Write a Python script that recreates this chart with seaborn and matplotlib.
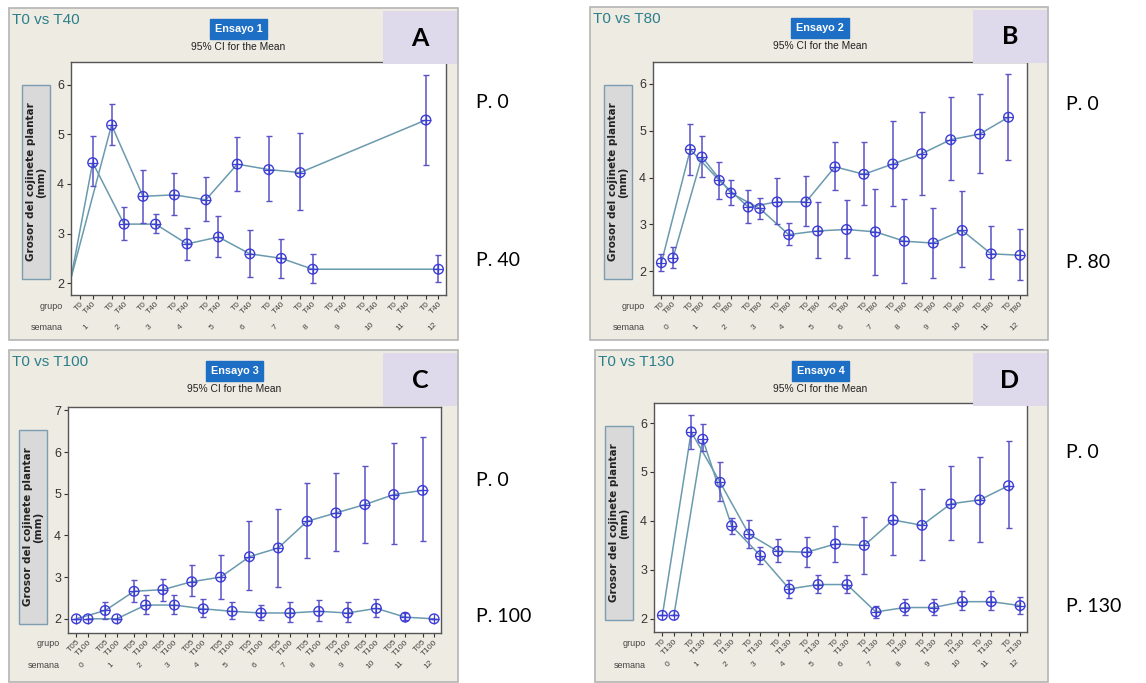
import matplotlib
matplotlib.use('Agg')
import matplotlib.pyplot as plt
import matplotlib.transforms as mtransforms
from matplotlib.patches import Rectangle
import numpy as np
import pandas as pd
import seaborn as sns

sns.set_style('white')
plt.rcParams['font.family'] = ['Liberation Sans', 'DejaVu Sans']

# ---------------- datos ----------------
semanas_A = [1, 2, 3, 4, 5, 6, 7, 8, 9, 10, 11, 12]
grupos_A = ['T0', 'T40']
A_T0_media = [None, 5.19, 3.75, 3.78, 3.68, 4.40, 4.29, 4.23, None, None, None, 5.29]
A_T0_inf = [None, 4.78, 3.22, 3.38, 3.26, 3.86, 3.65, 3.48, None, None, None, 4.39]
A_T0_sup = [None, 5.61, 4.29, 4.23, 4.14, 4.94, 4.96, 5.03, None, None, None, 6.20]
A_T40_media = [4.43, 3.19, 3.19, 2.79, 2.93, 2.59, 2.50, 2.28, None, None, None, 2.28]
A_T40_inf = [3.95, 2.87, 3.02, 2.47, 2.52, 2.13, 2.11, 2.00, None, None, None, 2.03]
A_T40_sup = [4.96, 3.53, 3.40, 3.12, 3.36, 3.08, 2.89, 2.59, None, None, None, 2.57]
A_inicio = 2.1  # semana 0, fuera del eje

semanas_B = [0, 1, 2, 3, 4, 5, 6, 7, 8, 9, 10, 11, 12]
grupos_B = ['T0', 'T80']
B_T0_media = [2.18, 4.60, 3.94, 3.37, 3.48, 3.48, 4.23, 4.07, 4.29, 4.51, 4.81, 4.93, 5.29]
B_T0_inf = [2.00, 4.06, 3.54, 3.03, 3.00, 2.96, 3.73, 3.42, 3.39, 3.62, 3.94, 4.10, 4.37]
B_T0_sup = [2.37, 5.14, 4.34, 3.74, 4.00, 4.04, 4.76, 4.76, 5.20, 5.41, 5.73, 5.79, 6.21]
B_T80_media = [2.28, 4.44, 3.67, 3.34, 2.78, 2.86, 2.89, 2.84, 2.64, 2.60, 2.87, 2.37, 2.34]
B_T80_inf = [2.07, 4.01, 3.42, 3.11, 2.55, 2.28, 2.28, 1.92, 1.75, 1.86, 2.09, 1.84, 1.81]
B_T80_sup = [2.51, 4.89, 3.94, 3.57, 3.03, 3.48, 3.51, 3.76, 3.54, 3.36, 3.71, 2.96, 2.89]

semanas_C = [0, 1, 2, 3, 4, 5, 6, 7, 8, 9, 10, 11, 12]
grupos_C = ['T05', 'T100']
C_T05_media = [2.00, 2.20, 2.66, 2.70, 2.89, 3.00, 3.49, 3.70, 4.34, 4.54, 4.74, 4.98, 5.08]
C_T05_inf = [2.00, 2.00, 2.40, 2.42, 2.54, 2.48, 2.69, 2.77, 3.46, 3.62, 3.83, 3.80, 3.86]
C_T05_sup = [2.00, 2.40, 2.93, 2.96, 3.28, 3.53, 4.34, 4.64, 5.26, 5.50, 5.66, 6.22, 6.36]
C_T100_media = [2.00, 2.00, 2.33, 2.33, 2.24, 2.18, 2.14, 2.14, 2.18, 2.14, 2.25, 2.04, 2.00]
C_T100_inf = [2.00, 2.00, 2.12, 2.12, 2.04, 2.00, 1.97, 1.92, 1.94, 1.92, 2.04, 1.96, 2.00]
C_T100_sup = [2.00, 2.00, 2.58, 2.58, 2.48, 2.40, 2.32, 2.40, 2.46, 2.40, 2.48, 2.14, 2.00]

semanas_D = [0, 1, 2, 3, 4, 5, 6, 7, 8, 9, 10, 11, 12]
grupos_D = ['T0', 'T130']
D_T0_media = [2.07, 5.82, 4.79, 3.73, 3.38, 3.36, 3.53, 3.50, 4.02, 3.91, 4.35, 4.43, 4.72]
D_T0_inf = [2.07, 5.48, 4.40, 3.44, 3.16, 3.05, 3.16, 2.91, 3.31, 3.21, 3.60, 3.56, 3.85]
D_T0_sup = [2.07, 6.16, 5.20, 4.02, 3.64, 3.68, 3.90, 4.09, 4.79, 4.66, 5.13, 5.30, 5.63]
D_T130_media = [2.07, 5.67, 3.90, 3.29, 2.61, 2.70, 2.70, 2.14, 2.23, 2.23, 2.35, 2.35, 2.27]
D_T130_inf = [2.07, 5.42, 3.73, 3.12, 2.42, 2.52, 2.52, 2.01, 2.07, 2.07, 2.18, 2.18, 2.10]
D_T130_sup = [2.07, 5.98, 4.07, 3.47, 2.80, 2.89, 2.89, 2.27, 2.40, 2.40, 2.56, 2.56, 2.44]

etiquetas_P = [('P. 0', 'P. 40'), ('P. 0', 'P. 80'), ('P. 0', 'P. 100'), ('P. 0', 'P. 130')]

# ---------------- estilo ----------------
W, H = 1146, 683
BEIGE = '#eeebe2'
LILA = '#dedaeb'
AZUL = '#1d6fc6'
TEAL = '#6a9aad'
MORADO = '#5a52c6'
MARCA = '#3d3dd6'
OFF = 0.4

fig = plt.figure(figsize=(W / 100, H / 100), dpi=100)
fig.patch.set_facecolor('white')


def px(x, y):
    return x / W, 1 - y / H


def tabla(semanas, grupos, series):
    filas = []
    for g, (media, inf, sup) in zip(grupos, series):
        for i, s in enumerate(semanas):
            if media[i] is None:
                continue
            filas.append({'semana': s, 'grupo': g, 'media': media[i],
                          'inf': inf[i], 'sup': sup[i]})
    return pd.DataFrame(filas)


def panel(caja, ejes, ylim, yticks, semanas, grupos, series, titulo, ensayo,
          letra, p_lab, p_y, sem0=0, inicio=None):
    x0, y0, x1, y1 = caja
    fig.patches.append(Rectangle(px(x0, y1), (x1 - x0) / W, (y1 - y0) / H,
                                 transform=fig.transFigure, fc=BEIGE,
                                 ec='#b4b4b4', lw=1.2, zorder=-5))
    l, t, r, b = ejes
    fx, fy = px(l, b)
    ax = fig.add_axes([fx, fy, (r - l) / W, (b - t) / H])
    ax.set_facecolor('white')

    df = tabla(semanas, grupos, series)
    df['pos'] = df['semana'] - sem0 + df['grupo'].map({grupos[0]: 0, grupos[1]: OFF})
    xmin, xmax = -0.29, len(semanas) - 1 + 0.64

    lineas = df[['pos', 'media', 'grupo']].copy()
    if inicio is not None:
        extra = pd.DataFrame({'pos': [xmin, xmin], 'media': [inicio, inicio],
                              'grupo': grupos})
        lineas = pd.concat([extra, lineas], ignore_index=True)
    sns.lineplot(data=lineas, x='pos', y='media', hue='grupo',
                 palette=[TEAL, TEAL], legend=False, lw=1.1, ax=ax,
                 estimator=None, sort=True)
    ax.errorbar(df['pos'], df['media'],
                yerr=[df['media'] - df['inf'], df['sup'] - df['media']],
                fmt='none', ecolor=MORADO, elinewidth=1.1, capsize=2,
                capthick=1, zorder=3)
    sns.scatterplot(data=df, x='pos', y='media', marker='o', s=48,
                    facecolor='none', edgecolor=MARCA, linewidth=1.0,
                    ax=ax, zorder=4)
    sns.scatterplot(data=df, x='pos', y='media', marker='+', s=48,
                    color=MARCA, linewidth=0.9, ax=ax, zorder=4)

    ax.set_xlim(xmin, xmax)
    ax.set_ylim(*ylim)
    ax.set_yticks(yticks)
    ax.tick_params(axis='y', labelsize=9, length=3, width=0.8,
                   colors='#333333', pad=2, left=True)
    pos_ticks = []
    lab_ticks = []
    for i in range(len(semanas)):
        pos_ticks += [i, i + OFF]
        lab_ticks += grupos
    ax.set_xticks(pos_ticks)
    ax.set_xticklabels(lab_ticks, rotation=45, ha='right',
                       rotation_mode='anchor', fontsize=6, color='#444444')
    ax.tick_params(axis='x', length=3, width=0.8, pad=1, bottom=True,
                   colors='#333333')
    for lab in ax.get_xticklabels():
        lab.set_color('#444444')
    ax.set_xlabel('')
    ax.set_ylabel('')
    for sp in ax.spines.values():
        sp.set_color('#555555')
        sp.set_linewidth(1.0)

    trans = mtransforms.blended_transform_factory(ax.transData, fig.transFigure)
    for i, s in enumerate(semanas):
        ax.text(i + OFF / 2, px(0, b + 32)[1], str(s), transform=trans,
                rotation=45, ha='center', va='center', fontsize=6,
                color='#444444')
    fig.text(*px(l - 8, b + 11), 'grupo', ha='right', va='center',
             fontsize=6.5, color='#444444')
    fig.text(*px(l - 8, b + 33), 'semana', ha='right', va='center',
             fontsize=6.5, color='#444444')

    # caja del eje Y
    bx0 = l - 49
    fig.patches.append(Rectangle(px(bx0, t + 217), 28 / W, 194 / H,
                                 transform=fig.transFigure, fc='#d9d9d9',
                                 ec='#7d9db3', lw=1.0, zorder=1))
    fig.text(*px(bx0 + 14, t + 120), 'Grosor del cojinete plantar\n(mm)',
             rotation=90, ha='center', va='center', fontsize=7.5,
             fontweight='bold', color='#222222', linespacing=1.0,
             family=['DejaVu Sans'])

    # textos de cabecera
    fig.text(*px(x0 + 3, y0 + 12), titulo, ha='left', va='center',
             fontsize=11, color='#2b7f8c')
    cx = (l + r) / 2 - 20
    fig.text(*px(cx, y0 + 21), ensayo, ha='center', va='center', fontsize=7.8,
             fontweight='bold', color='white',
             bbox=dict(boxstyle='square,pad=0.45', fc=AZUL, ec=AZUL))
    fig.text(*px(cx, y0 + 39), '95% CI for the Mean', ha='center',
             va='center', fontsize=7.4, color='#222222')

    # caja con letra
    fig.patches.append(Rectangle(px(x1 - 75, y0 + 56), 74 / W, 53 / H,
                                 transform=fig.transFigure, fc=LILA,
                                 ec='none', zorder=2))
    fig.text(*px(x1 - 38, y0 + 30), letra, ha='center', va='center',
             fontsize=18, fontweight='bold', color='black', family='Lato')

    fig.text(*px(x1 + 18, p_y[0]), p_lab[0], ha='left', va='center',
             fontsize=14, color='black', family='Lato')
    fig.text(*px(x1 + 18, p_y[1]), p_lab[1], ha='left', va='center',
             fontsize=14, color='black', family='Lato')
    return ax


panel((9, 8, 458, 340), (71, 62, 446, 295), (1.76, 6.46), [2, 3, 4, 5, 6],
      semanas_A, grupos_A,
      [(A_T0_media, A_T0_inf, A_T0_sup), (A_T40_media, A_T40_inf, A_T40_sup)],
      'T0 vs T40', 'Ensayo 1', 'A', etiquetas_P[0], (103, 261),
      sem0=1, inicio=A_inicio)
panel((590, 7, 1048, 340), (653, 62, 1027, 295), (1.49, 6.47), [2, 3, 4, 5, 6],
      semanas_B, grupos_B,
      [(B_T0_media, B_T0_inf, B_T0_sup), (B_T80_media, B_T80_inf, B_T80_sup)],
      'T0 vs T80', 'Ensayo 2', 'B', etiquetas_P[1], (104, 263))
panel((9, 350, 458, 682), (68, 407, 441, 633), (1.66, 7.08), [2, 3, 4, 5, 6, 7],
      semanas_C, grupos_C,
      [(C_T05_media, C_T05_inf, C_T05_sup), (C_T100_media, C_T100_inf, C_T100_sup)],
      'T0 vs T100', 'Ensayo 3', 'C', etiquetas_P[2], (481, 617))
panel((595, 350, 1048, 682), (654, 403, 1027, 632), (1.73, 6.41), [2, 3, 4, 5, 6],
      semanas_D, grupos_D,
      [(D_T0_media, D_T0_inf, D_T0_sup), (D_T130_media, D_T130_inf, D_T130_sup)],
      'T0 vs T130', 'Ensayo 4', 'D', etiquetas_P[3], (452, 607))

fig.savefig('out.png', dpi=100, facecolor='white')
